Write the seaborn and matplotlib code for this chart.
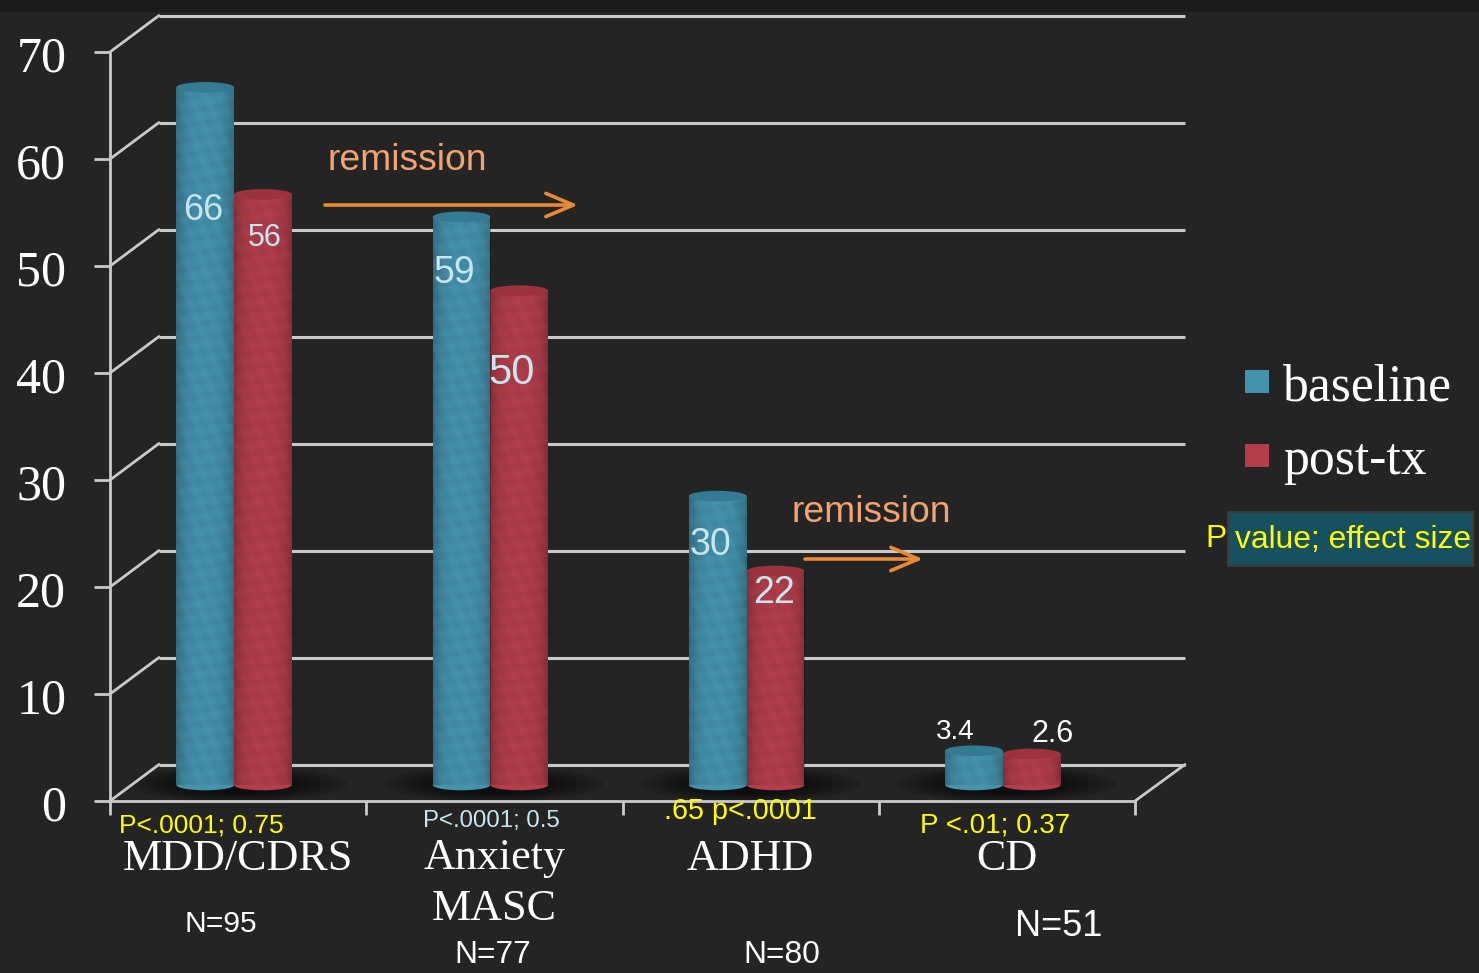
import numpy as np
import pandas as pd
import matplotlib
matplotlib.use("Agg")
import matplotlib.pyplot as plt
from matplotlib.patches import Ellipse, Rectangle, ConnectionPatch, FancyArrowPatch
from matplotlib.transforms import ScaledTranslation
import seaborn as sns

categories = ["MDD/CDRS", "Anxiety\nMASC", "ADHD", "CD"]
baseline_height = [65.2, 53.1, 27.0, 3.2]
post_tx_height = [55.2, 46.2, 20.0, 2.9]
baseline_labels = ["66", "59", "30", "3.4"]
post_tx_labels = ["56", "50", "22", "2.6"]
p_labels = ["P<.0001; 0.75", "P<.0001; 0.5", ".65 p<.0001", "P <.01; 0.37"]
n_labels = ["N=95", "N=77", "N=80", "N=51"]
y_ticks = [0, 10, 20, 30, 40, 50, 60, 70]

W, H = 1479, 973
BG = "#242424"
LINE = "#c9c9c9"
BLUE = "#4592ad"
RED = "#b23e4b"
LIGHT = "#c8e6ef"
YELLOW = "#ffff00"
ORANGE = "#e98a35"
SALMON = "#f3a271"
SANS = "Liberation Sans"
SERIF = "Liberation Serif"

sns.set_theme(style="dark")
plt.rcParams["font.family"] = [SANS, "DejaVu Sans"]

fig = plt.figure(figsize=(W / 100, H / 100), dpi=100, facecolor=BG)


def ax_px(left, top, right, bottom, z):
    a = fig.add_axes([left / W, 1 - bottom / H, (right - left) / W, (bottom - top) / H], zorder=z)
    a.patch.set_alpha(0)
    a.set_xlim(-0.5, 3.5)
    a.set_ylim(0, 70)
    return a


def label(x, y, s, size, color="white", family=SANS, **kw):
    fig.text(x / W, 1 - (y + 3) / H, s, fontsize=size, color=color, family=family,
             ha=kw.pop("ha", "center"), va=kw.pop("va", "center"), zorder=10, **kw)


fig.add_artist(Rectangle((0, 1 - 12 / H), 1, 12 / H, transform=fig.transFigure,
                         facecolor="#1b1b1b", edgecolor="none", zorder=0))

# front plane: axis lines, ticks, category labels
front = ax_px(110, 52, 1135, 801, 1)
front.set_yticks(y_ticks)
front.set_xticks(range(len(categories)))
front.set_xticklabels(categories, family=SERIF, fontsize=31.8, color="white", linespacing=1.34)
front.set_xticks(np.arange(-0.5, 4), minor=True)
front.set_yticklabels([str(v) for v in y_ticks], family=SERIF, fontsize=36, color="white")
front.tick_params(axis="x", which="major", length=0, pad=27)
front.tick_params(axis="x", which="minor", length=10, width=2, color=LINE, bottom=True)
front.tick_params(axis="y", length=11.5, width=2, color=LINE, pad=20, left=True)
for s in ("top", "right"):
    front.spines[s].set_visible(False)
for s in ("left", "bottom"):
    front.spines[s].set_color(LINE)
    front.spines[s].set_linewidth(2)
shift = ScaledTranslation(0, -7 / 100, fig.dpi_scale_trans)
for lab in front.get_yticklabels():
    lab.set_verticalalignment("center")
    lab.set_transform(lab.get_transform() + shift)

# floor shadows
for i in range(len(categories)):
    for k in range(8):
        front.add_patch(Ellipse((i, 1.6), 0.85 - k * 0.07, 3.4 - k * 0.25,
                                facecolor="black", edgecolor="none", alpha=0.10))

# back wall gridlines
back = ax_px(159, 15.5, 1185, 764.5, 2)
back.set_yticks(y_ticks)
back.set_xticks([])
back.tick_params(length=0, labelleft=False)
back.grid(axis="y", color=LINE, linewidth=2.2)
for g in back.get_ygridlines():
    g.set_clip_on(False)
    g.set_solid_capstyle("butt")
for s in back.spines.values():
    s.set_visible(False)
for v in y_ticks:
    fig.add_artist(ConnectionPatch((-0.5, v), (-0.5, v), coordsA=front.transData, coordsB=back.transData,
                                   color=LINE, linewidth=2, zorder=1.5))
fig.add_artist(ConnectionPatch((3.5, 0), (3.5, 0), coordsA=front.transData, coordsB=back.transData,
                               color=LINE, linewidth=2, zorder=1.5))

# cylinders
bars = ax_px(106, 36, 1131, 785, 3)
df = pd.DataFrame({
    "category": categories * 2,
    "value": baseline_height + post_tx_height,
    "series": ["baseline"] * 4 + ["post-tx"] * 4,
})
sns.barplot(data=df, x="category", y="value", hue="series", order=categories,
            palette={"baseline": BLUE, "post-tx": RED}, width=0.45, gap=0,
            saturation=1, dodge=True, ax=bars, linewidth=0)
bars.set_xlim(-0.5, 3.5)
bars.set_ylim(0, 70)
bars.set_xlabel("")
bars.set_ylabel("")
bars.set_xticks([])
bars.set_yticks([])
for s in bars.spines.values():
    s.set_visible(False)

CAP = 0.62
for cont, base, cap in zip(bars.containers, (BLUE, RED), ("#357a93", "#9a333f")):
    for patch in cont:
        x0, w, h = patch.get_x(), patch.get_width(), patch.get_height()
        ny, nx = max(int(h * 10.7), 2), 57
        xx, yy = np.meshgrid(np.linspace(-1, 1, nx), np.arange(ny))
        shade = 0.22 * np.abs(xx) ** 3
        mottle = 0.035 * (np.sin(yy * 0.31 + xx * 5) * np.cos(yy * 0.13 - xx * 7) + 1)
        img = np.zeros((ny, nx, 4))
        img[..., 3] = np.clip(shade + mottle, 0, 1)
        im = bars.imshow(img, extent=(x0, x0 + w, 0, h), aspect="auto", origin="lower", zorder=3)
        im.set_clip_path(patch)
        bars.add_patch(Ellipse((x0 + w / 2, 0), w, CAP * 1.6, facecolor=base, edgecolor="none",
                               clip_on=False, zorder=1))
        bars.add_patch(Ellipse((x0 + w / 2, h), w, CAP * 1.6, facecolor=cap, edgecolor="none",
                               clip_on=False, zorder=4))
bars.set_xlim(-0.5, 3.5)
bars.set_ylim(0, 70)

handles, names = bars.get_legend_handles_labels()
if bars.get_legend():
    bars.get_legend().remove()
leg = fig.legend(handles, names, loc="center left", bbox_to_anchor=(1245 / W, 1 - 424 / H),
                 frameon=False, prop={"family": SERIF, "size": 37.2}, labelcolor="white",
                 handlelength=0.47, handleheight=0.3, handletextpad=0.26, labelspacing=0.50,
                 borderpad=0, borderaxespad=0)
leg.set_zorder(10)

# value labels
label(203, 207, baseline_labels[0], 26, LIGHT)
label(265, 235, post_tx_labels[0], 22, LIGHT)
label(454, 270, baseline_labels[1], 27, LIGHT)
label(511, 370, post_tx_labels[1], 30, LIGHT)
label(710, 542, baseline_labels[2], 27, LIGHT)
label(774, 590, post_tx_labels[2], 27, LIGHT)
label(955, 729, baseline_labels[3], 20)
label(1053, 731, post_tx_labels[3], 22)

# remission notes
label(407, 158, "remission", 26.8, SALMON)
label(871, 510, "remission", 26.8, SALMON)
for x0, x1, y in ((325, 578, 205), (805, 923, 559)):
    fig.add_artist(FancyArrowPatch(
        (x0 / W, 1 - y / H), (x1 / W, 1 - y / H), transform=fig.transFigure,
        arrowstyle="->,head_length=0.9,head_width=0.38", mutation_scale=22,
        color=ORANGE, linewidth=2.6, shrinkA=0, shrinkB=0, zorder=9))

# p values and sample sizes
label(201, 822, p_labels[0], 19, YELLOW)
label(491, 818, p_labels[1], 17.3, LIGHT)
label(740, 808, p_labels[2], 20.7, YELLOW)
label(995, 823, p_labels[3], 20, YELLOW)
label(221, 921, n_labels[0], 21.6)
label(493, 952, n_labels[1], 22.9)
label(782, 952, n_labels[2], 22.9)
label(1059, 924, n_labels[3], 26)

# key for the p-value text
fig.add_artist(Rectangle((1228 / W, 1 - 566 / H), 245 / W, 54 / H, transform=fig.transFigure,
                         facecolor="#17505f", edgecolor="#3a3a3a", linewidth=1.5, zorder=8))
label(1216, 536, "P", 22.9, YELLOW)
label(1353, 537, "value; effect size", 22.9, YELLOW)

fig.savefig("out.png", dpi=100, facecolor=BG)
